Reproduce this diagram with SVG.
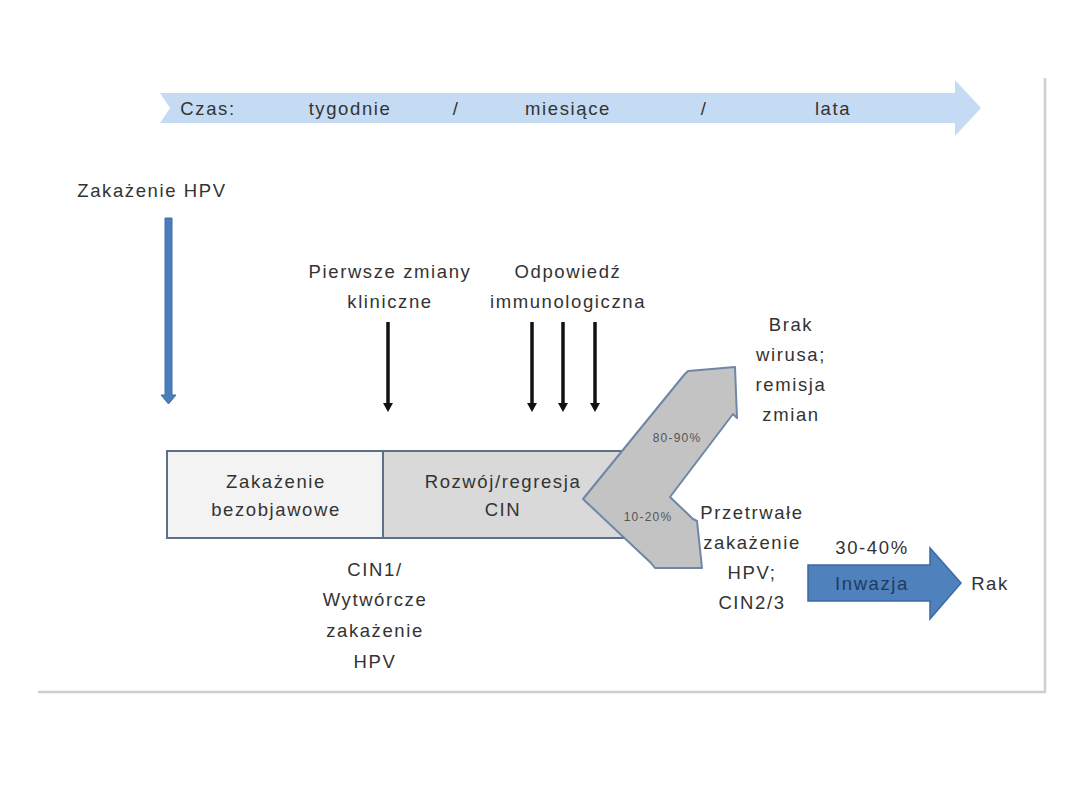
<svg xmlns="http://www.w3.org/2000/svg" width="1080" height="810" viewBox="0 0 1080 810">
<style>
text{font-family:"Liberation Sans",Arial,sans-serif;font-size:18.5px;letter-spacing:1.6px;fill:#333;text-anchor:middle}
.sm{font-size:12px;letter-spacing:1.2px;fill:#555}
.bx{stroke:#5d7089;stroke-width:2}
.blk{stroke:#111;stroke-width:3.5;fill:none}
.ah{fill:#111}
</style>
<rect width="1080" height="810" fill="#fff"/>
<g id="frame" stroke="#cfcfcf" stroke-width="2.5" fill="none">
<path d="M1045,78 V692 H38"/>
</g>
<g id="timeline">
<path d="M160,93 H955 V80 L981,108 L955,136 V123 H160 L170,108 Z" fill="#c5dbf4"/>
<text x="208" y="115">Czas:</text>
<text x="350" y="115">tygodnie</text>
<text x="456" y="115">/</text>
<text x="568" y="115">miesiące</text>
<text x="704" y="115">/</text>
<text x="833" y="115">lata</text>
</g>
<g id="hpv">
<text x="152" y="197">Zakażenie HPV</text>
<path d="M165,218 H172 V395 H176 L168.5,404 L161,395 H165 Z" fill="#4a7ebb" stroke="#3f6fa6" stroke-width="1"/>
</g>
<g id="pierwsze">
<text x="390" y="278">Pierwsze zmiany</text>
<text x="390" y="308">kliniczne</text>
</g>
<g id="odpowiedz">
<text x="568" y="278">Odpowiedź</text>
<text x="568" y="308">immunologiczna</text>
</g>
<g id="connectors">
<line class="blk" x1="388" y1="322" x2="388" y2="404"/>
<path class="ah" d="M383,403 H393 L388,412 Z"/>
<line class="blk" x1="532" y1="322" x2="532" y2="404"/>
<path class="ah" d="M527,403 H537 L532,412 Z"/>
<line class="blk" x1="563" y1="322" x2="563" y2="404"/>
<path class="ah" d="M558,403 H568 L563,412 Z"/>
<line class="blk" x1="595" y1="322" x2="595" y2="404"/>
<path class="ah" d="M590,403 H600 L595,412 Z"/>
</g>
<g id="bezobjawowe">
<rect class="bx" x="167" y="451" width="216" height="87" fill="#f3f3f3"/>
<text x="276" y="488">Zakażenie</text>
<text x="276" y="516">bezobjawowe</text>
</g>
<g id="rozwoj">
<rect class="bx" x="383" y="451" width="242" height="87" fill="#d9d9d9"/>
<text x="503" y="488">Rozwój/regresja</text>
<text x="503" y="516">CIN</text>
</g>
<g id="chevron">
<path d="M583,499 L684,375 L688,371 L735,367 L737,418 L733,414 L670,497 L693,519 L697,521 L702,568 L655,568 L651,563 Z" fill="#c3c3c3" stroke="#6f87a6" stroke-width="2" stroke-linejoin="round"/>
<text class="sm" x="677" y="442">80-90%</text>
<text class="sm" x="648" y="521">10-20%</text>
</g>
<g id="brak">
<text x="791" y="331">Brak</text>
<text x="791" y="361">wirusa;</text>
<text x="791" y="391">remisja</text>
<text x="791" y="421">zmian</text>
</g>
<g id="przetrwale">
<text x="752" y="519">Przetrwałe</text>
<text x="752" y="549">zakażenie</text>
<text x="752" y="579">HPV;</text>
<text x="752" y="609">CIN2/3</text>
</g>
<g id="cin1">
<text x="375" y="576">CIN1/</text>
<text x="375" y="606">Wytwórcze</text>
<text x="375" y="637">zakażenie</text>
<text x="375" y="668">HPV</text>
</g>
<g id="inwazja">
<text x="872" y="554">30-40%</text>
<path d="M808,565 H930 V548 L961,583 L930,619 V601 H808 Z" fill="#4f81bd" stroke="#3b6aa3" stroke-width="1.5"/>
<text x="872" y="590" style="fill:#1f3a60">Inwazja</text>
</g>
<g id="rak">
<text x="990" y="590">Rak</text>
</g>
</svg>
